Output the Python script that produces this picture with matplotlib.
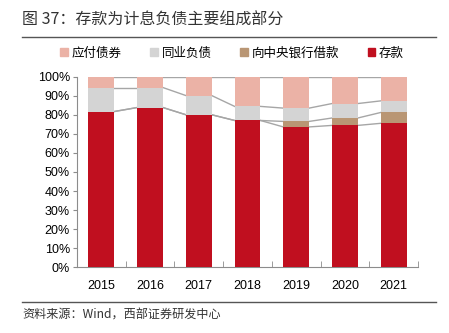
import numpy as np
import matplotlib.pyplot as plt
from matplotlib.patches import Patch
from matplotlib.lines import Line2D

plt.rcParams['font.family'] = ['Liberation Sans', 'Noto Sans CJK SC', 'DejaVu Sans']

# data (shares of interest-bearing liabilities, %)
years = ['2015', '2016', '2017', '2018', '2019', '2020', '2021']
deposits = [81.8, 83.9, 80.1, 77.1, 73.7, 74.5, 75.6]
central_bank = [0.0, 0.0, 0.0, 0.0, 2.9, 3.9, 5.7]
interbank = [12.6, 10.5, 10.1, 7.4, 7.0, 7.6, 6.1]
bonds = [100 - d - c - i for d, c, i in zip(deposits, central_bank, interbank)]

labels = ['应付债券', '同业负债', '向中央银行借款', '存款']
colors = {'bonds': '#EBB2A6', 'interbank': '#D4D4D4', 'cb': '#B99674', 'dep': '#C00F1F'}

fig = plt.figure(figsize=(4.49, 3.33), dpi=100)
ax = fig.add_axes([0.1715, 0.198, 0.7595, 0.571])

x = np.arange(len(years))
w = 0.53
dep = np.array(deposits)
cb = np.array(central_bank)
ib = np.array(interbank)
bd = np.array(bonds)

ax.bar(x, dep, w, color=colors['dep'], zorder=3)
ax.bar(x, cb, w, bottom=dep, color=colors['cb'], zorder=3)
ax.bar(x, ib, w, bottom=dep + cb, color=colors['interbank'], zorder=3)
ax.bar(x, bd, w, bottom=dep + cb + ib, color=colors['bonds'], zorder=3)

# connector lines between bars
for level in [dep, dep + cb, dep + cb + ib, dep + cb + ib + bd]:
    for i in range(len(x) - 1):
        ax.plot([x[i] + w / 2, x[i + 1] - w / 2], [level[i], level[i + 1]],
                color='#A6A6A6', lw=1, zorder=2)

ax.set_xlim(-0.5, len(x) - 0.5)
ax.set_ylim(0, 100)
ax.set_yticks(np.arange(0, 101, 10))
ax.set_yticklabels([f'{v}%' for v in range(0, 101, 10)], fontsize=9)
ax.set_xticks(x)
ax.set_xticklabels(years, fontsize=9)
ax.set_xticks(np.arange(-0.5, len(x), 1), minor=True)
ax.tick_params(axis='x', which='major', length=0, pad=9)
ax.tick_params(axis='x', which='minor', direction='in', length=4, color='#8C8C8C')
ax.tick_params(axis='y', length=3, color='#8C8C8C', pad=2)
for s in ['top', 'right']:
    ax.spines[s].set_visible(False)
for s in ['left', 'bottom']:
    ax.spines[s].set_color('#8C8C8C')
    ax.spines[s].set_linewidth(0.8)

# legend
handles = [Patch(color=colors[k]) for k in ['bonds', 'interbank', 'cb', 'dep']]
fig.legend(handles, labels, loc='center', bbox_to_anchor=(0.517, 0.84), ncol=4,
           frameon=False, handlelength=0.6, handleheight=0.6,
           handletextpad=0.3, columnspacing=2.3,
           prop={'family': ['Noto Sans CJK SC'], 'size': 9})

# title, rules and source
fig.text(0.05, 0.938, '图 37：存款为计息负债主要组成部分', fontsize=11.5, color='#333333',
         va='center', family=['Noto Sans CJK SC', 'DejaVu Sans'])
fig.add_artist(Line2D([0.049, 0.971], [0.889, 0.889], color='#555555', lw=1))
fig.add_artist(Line2D([0.049, 0.971], [0.094, 0.094], color='#555555', lw=1))
fig.text(0.05, 0.055, '资料来源：Wind，西部证券研发中心', fontsize=8.7, color='#333333',
         va='center', family=['Noto Sans CJK SC', 'DejaVu Sans'])

fig.savefig('out.png', dpi=100)
